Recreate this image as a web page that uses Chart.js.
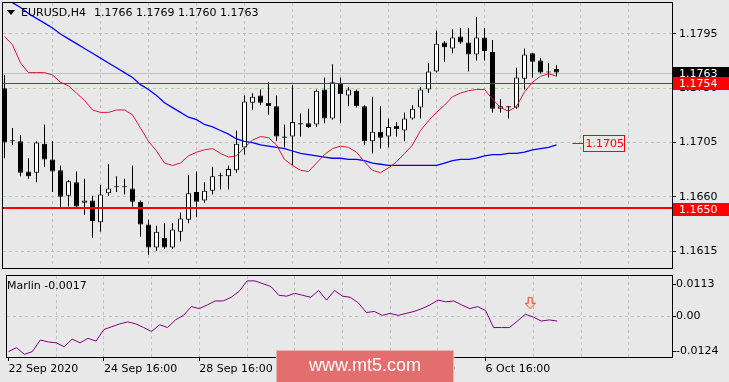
<!DOCTYPE html>
<html><head><meta charset="utf-8">
<script src="https://cdn.jsdelivr.net/npm/chart.js"></script>
<style>
html,body{margin:0;padding:0;background:#e8e8e8;width:729px;height:382px;overflow:hidden;}
#c1{position:absolute;left:0;top:0;}
#c2{position:absolute;left:0;top:269px;}
</style></head><body>
<canvas id="c1" width="729" height="270"></canvas>
<canvas id="c2" width="729" height="113"></canvas>
<script>
// ---------------- data ----------------
const symbolTitle = 'EURUSD,H4';
const lastBarText = '1.1766 1.1769 1.1760 1.1763';
const opens = [1.1750,1.1706,1.1706,1.1681,1.1680,1.1704,1.1691,1.1682,1.1661,1.1672,
1.1655,1.1657,1.1639,1.1663,1.1668,1.1668,1.1667,1.1656,1.1637,1.1618,
1.1626,1.1618,1.1631,1.1641,1.1664,1.1657,1.1665,1.1677,1.1677,1.1682,
1.1701,1.1738,1.1744,1.1738,1.1735,1.1710,1.1710,1.1721,1.1721,1.1720,
1.1749,1.1725,1.1754,1.1744,1.1748,1.1735,1.1706,1.1714,1.1710,1.1719,
1.1715,1.1725,1.1734,1.1749,1.1764,1.1788,1.1783,1.1793,1.1788,1.1778,
1.1792,1.1780,1.1733,1.1735,1.1734,1.1758,1.1779,1.1773,1.1763,1.1766];
const highs = [1.1761,1.1717,1.1711,1.1692,1.1706,1.1720,1.1706,1.1686,1.1674,1.1681,
1.1675,1.1661,1.1670,1.1687,1.1677,1.1675,1.1686,1.1657,1.1641,1.1636,
1.1638,1.1638,1.1647,1.1678,1.1681,1.1672,1.1685,1.1680,1.1686,1.1715,
1.1744,1.1746,1.1749,1.1755,1.1744,1.1720,1.1753,1.1729,1.1733,1.1749,
1.1759,1.1770,1.1759,1.1751,1.1749,1.1736,1.1743,1.1735,1.1725,1.1722,
1.1730,1.1736,1.1751,1.1771,1.1798,1.1789,1.1799,1.1800,1.1800,1.1809,
1.1800,1.1790,1.1741,1.1735,1.1767,1.1783,1.1779,1.1775,1.1771,1.1769];
const lows = [1.1692,1.1703,1.1677,1.1675,1.1672,1.1685,1.1664,1.1651,1.1652,1.1651,
1.1645,1.1626,1.1631,1.1661,1.1664,1.1662,1.1652,1.1627,1.1612,1.1615,
1.1617,1.1617,1.1623,1.1638,1.1643,1.1655,1.1662,1.1666,1.1666,1.1680,
1.1695,1.1732,1.1736,1.1728,1.1706,1.1701,1.1686,1.1710,1.1717,1.1718,
1.1721,1.1724,1.1721,1.1735,1.1734,1.1703,1.1696,1.1700,1.1701,1.1710,
1.1706,1.1724,1.1725,1.1746,1.1763,1.1772,1.1779,1.1787,1.1764,1.1773,
1.1773,1.1730,1.1730,1.1725,1.1733,1.1749,1.1759,1.1762,1.1759,1.1760];
const closes = [1.1705,1.1707,1.1680,1.1677,1.1705,1.1691,1.1681,1.1660,1.1673,1.1652,
1.1657,1.1640,1.1662,1.1667,1.1668,1.1668,1.1656,1.1637,1.1618,1.1631,
1.1618,1.1633,1.1642,1.1663,1.1656,1.1665,1.1677,1.1677,1.1683,1.1704,
1.1739,1.1743,1.1738,1.1735,1.1710,1.1709,1.1722,1.1720,1.1718,1.1748,
1.1725,1.1755,1.1745,1.1749,1.1735,1.1706,1.1714,1.1709,1.1718,1.1716,
1.1725,1.1733,1.1749,1.1764,1.1787,1.1784,1.1792,1.1788,1.1778,1.1792,
1.1781,1.1733,1.1735,1.1734,1.1759,1.1778,1.1772,1.1763,1.1764,1.1763];
const fastMA = [1.1793,1.1786,1.1771,1.1763,1.1763,1.1763,1.1761,1.1755,1.1752,1.1746,
1.1740,1.1732,1.1730,1.1730,1.1732,1.1732,1.1728,1.1717,1.1706,1.1698,
1.1688,1.1686,1.1688,1.1694,1.1697,1.1699,1.1700,1.1696,1.1693,1.1694,
1.1701,1.1707,1.1710,1.1709,1.1703,1.1691,1.1686,1.1682,1.1681,1.1688,
1.1695,1.1700,1.1702,1.1701,1.1697,1.1689,1.1682,1.1680,1.1684,1.1689,
1.1696,1.1703,1.1715,1.1723,1.1730,1.1736,1.1743,1.1746,1.1748,1.1749,
1.1749,1.1741,1.1734,1.1731,1.1735,1.1747,1.1755,1.1760,1.1762,1.1760];
const slowMA = [1.1825,1.1821,1.1817,1.1812,1.1808,1.1804,1.1800,1.1795,1.1791,1.1787,
1.1783,1.1779,1.1775,1.1771,1.1767,1.1763,1.1759,1.1753,1.1749,1.1744,
1.1738,1.1734,1.1730,1.1726,1.1724,1.1720,1.1718,1.1715,1.1712,1.1708,
1.1706,1.1705,1.1703,1.1702,1.1701,1.1700,1.1698,1.1696,1.1695,1.1694,
1.1693,1.1692,1.1692,1.1691,1.1691,1.1690,1.1688,1.1687,1.1686,1.1686,
1.1686,1.1686,1.1686,1.1686,1.1686,1.1688,1.1690,1.1691,1.1691,1.1692,
1.1694,1.1695,1.1695,1.1696,1.1696,1.1697,1.1699,1.1700,1.1701,1.1703];
const marlin = [-0.0125,-0.0111,-0.0135,-0.0125,-0.0084,-0.0091,-0.0094,-0.0108,-0.0081,-0.0094,
-0.0078,-0.0088,-0.0047,-0.0037,-0.0027,-0.0020,-0.0027,-0.0040,-0.0054,-0.0030,
-0.0040,-0.0013,0.0003,0.0034,0.0027,0.0040,0.0054,0.0054,0.0067,0.0088,
0.0125,0.0125,0.0115,0.0105,0.0074,0.0071,0.0081,0.0074,0.0067,0.0091,
0.0057,0.0091,0.0071,0.0067,0.0047,0.0013,0.0017,0.0003,0.0010,0.0003,
0.0010,0.0017,0.0027,0.0040,0.0057,0.0051,0.0054,0.0040,0.0027,0.0034,
0.0020,-0.0040,-0.0040,-0.0040,-0.0017,0.0007,-0.0003,-0.0017,-0.0013,-0.0017];
const marlinLabel = 'Marlin -0.0017';
const timeLabelIdx = [0, 12, 24, 36, 48, 60];
const timeLabelText = ['22 Sep 2020', '24 Sep 16:00', '28 Sep 16:00', '30 Sep 16:00', '2 Oct 16:00', '6 Oct 16:00'];
const priceTicks = [1.1615, 1.1660, 1.1705, 1.1750, 1.1795];
const marlinTicks = [-0.0124, 0, 0.0113];
const marlinTickText = ['-0.0124', '0.00', '0.0113'];
const bidPrice = 1.1763;
const redLevels = [1.1754, 1.1650];
const redLevelWidths = [1, 2];
const maLabelValue = 1.1705;
const signalX = [65.6];
const signalY = [0.0046];

// ---------------- setup ----------------
const idx = closes.map((_, i) => i);
const X_MIN = -0.1875, X_MAX = 83.4375;
const GRID = '#c2c2c2';
const FONT = "'DejaVu Sans', sans-serif";
Chart.defaults.font.family = FONT;
Chart.defaults.font.size = 11;
Chart.defaults.color = '#000';

function gridTicks(from){ const t=[]; for(let v=from; v<=78; v+=6) t.push({value:v}); return t; }

const mainDeco = {
  id: 'mainDeco',
  beforeDatasetsDraw(chart){
    const {ctx, chartArea:a, scales:{y}} = chart;
    const py = Math.round(y.getPixelForValue(bidPrice));
    ctx.save(); ctx.fillStyle = '#c0c0c0';
    ctx.fillRect(a.left, py, a.right - a.left, 1); ctx.restore();
  },
  afterDatasetsDraw(chart){
    const {ctx, chartArea:a, scales:{x, y}} = chart;
    ctx.save();
    ctx.setLineDash([]);
    // red level lines
    ctx.fillStyle = '#ff0000';
    redLevels.forEach((v, k) => {
      const w = redLevelWidths[k];
      const py = w > 1 ? Math.floor(y.getPixelForValue(v)) - 1 : Math.round(y.getPixelForValue(v));
      ctx.fillRect(a.left, py, a.right - a.left, w);
    });
    // frame
    ctx.strokeStyle = '#000'; ctx.lineWidth = 1;
    ctx.strokeRect(a.left - 0.5, a.top - 0.5, a.right - a.left + 1, a.bottom - a.top + 1);
    // title
    ctx.fillStyle = '#000';
    ctx.beginPath(); ctx.moveTo(7, 10); ctx.lineTo(15, 10); ctx.lineTo(11, 15); ctx.closePath(); ctx.fill();
    ctx.font = '11px ' + FONT; ctx.textBaseline = 'middle'; ctx.textAlign = 'left';
    ctx.fillText(symbolTitle, 21, 13);
    ctx.fillText(lastBarText, 94, 13);
    // MA value label inside plot
    const ly = Math.round(y.getPixelForValue(maLabelValue));
    const sx = x.getPixelForValue(71), bx = Math.round(x.getPixelForValue(72.25)), bw = 41;
    ctx.fillStyle = '#ff0000';
    ctx.fillRect(sx, ly, bx - sx, 1);
    ctx.strokeStyle = '#ff0000';
    ctx.strokeRect(bx + 0.5, ly - 7.5, bw, 16);
    ctx.fillText(maLabelValue.toFixed(4), bx + 2.5, ly + 1);
    // axis price boxes
    const boxes = [[bidPrice, '#000000'], [redLevels[0], '#ff0000'], [redLevels[1], '#ff0000']];
    boxes.forEach(([v, col]) => {
      const py = Math.round(y.getPixelForValue(v));
      ctx.fillStyle = col; ctx.fillRect(a.right + 1, py - 6, 56, 13);
      ctx.fillStyle = '#ffffff'; ctx.fillText(v.toFixed(4), a.right + 7, py + 1);
    });
    ctx.restore();
  }
};

new Chart(document.getElementById('c1'), {
  type: 'bar',
  data: { datasets: [
    { type:'line', label:'fast', data: idx.map(i => ({x:i, y:fastMA[i]})), borderColor:'#dc143c', borderWidth:1, pointRadius:0, tension:0, order:0, clip:0 },
    { type:'line', label:'slow', data: idx.map(i => ({x:i, y:slowMA[i]})), borderColor:'#0000ff', borderWidth:1.3, pointRadius:0, tension:0, order:1, clip:0 },
    { type:'bar', label:'body', data: idx.map(i => ({x:i, y:[opens[i], closes[i]]})),
      backgroundColor: idx.map(i => closes[i] >= opens[i] ? '#ffffff' : '#000000'),
      borderColor:'#000000', borderWidth:1, borderSkipped:false, barThickness:5, minBarLength:1, inflateAmount:0, grouped:false, order:2, clip:0 },
    { type:'bar', label:'wick', data: idx.map(i => ({x:i, y:[lows[i], highs[i]]})),
      backgroundColor:'#000000', borderWidth:0, barThickness:1, inflateAmount:0, grouped:false, order:3, clip:0 }
  ]},
  options: {
    responsive:false, animation:false, devicePixelRatio:1,
    layout:{ padding:{ left:3, top:3, right:0, bottom:2 } },
    plugins:{ legend:{display:false}, tooltip:{enabled:false} },
    scales:{
      x:{ type:'linear', min:X_MIN, max:X_MAX, offset:false,
          afterBuildTicks: s => { s.ticks = gridTicks(6); },
          ticks:{ display:false },
          grid:{ offset:false, color:GRID, drawTicks:false },
          border:{ display:false, dash:[3,3] },
          afterFit: s => { s.height = 0; s.paddingLeft = 0; s.paddingRight = 0; } },
      y:{ position:'right', min:1.16010, max:1.18207, beginAtZero:false,
          afterBuildTicks: s => { s.ticks = priceTicks.map(v => ({value:v})); },
          ticks:{ callback: v => Number(v).toFixed(4), padding:3, autoSkip:false },
          grid:{ color:GRID, tickColor:'#000', tickLength:4, tickBorderDash:[] },
          border:{ display:false, dash:[3,3] },
          afterFit: s => { s.width = 57; s.paddingTop = 0; s.paddingBottom = 0; } }
    }
  },
  plugins:[mainDeco]
});

// arrow marker image
function makeArrow(){
  const c = document.createElement('canvas'); c.width = 11; c.height = 13;
  const g = c.getContext('2d');
  g.beginPath();
  g.moveTo(3.5,0.5); g.lineTo(7.5,0.5); g.lineTo(7.5,6.5); g.lineTo(10.5,6.5); g.lineTo(5.5,12); g.lineTo(0.5,6.5); g.lineTo(3.5,6.5); g.closePath();
  g.fillStyle = '#ffe2d6'; g.fill(); g.strokeStyle = '#f03a28'; g.lineWidth = 1; g.stroke();
  return c;
}

const subDeco = {
  id:'subDeco',
  afterDatasetsDraw(chart){
    const {ctx, chartArea:a} = chart;
    ctx.save();
    ctx.setLineDash([]);
    ctx.strokeStyle = '#000'; ctx.lineWidth = 1;
    ctx.strokeRect(a.left - 0.5, a.top - 0.5, a.right - a.left + 1, a.bottom - a.top + 1);
    ctx.fillStyle = '#000'; ctx.font = '11px ' + FONT; ctx.textBaseline = 'middle'; ctx.textAlign = 'left';
    ctx.fillText(marlinLabel, 7, a.top + 10);
    ctx.restore();
  },
  afterDraw(chart){
    const {ctx} = chart;
    ctx.save();
    ctx.fillStyle = '#e36e6e';
    ctx.fillRect(276, 81, 178, 32);
    ctx.strokeStyle = 'rgba(255,255,255,0.45)'; ctx.lineWidth = 1;
    ctx.strokeRect(276.5, 81.5, 177, 32);
    ctx.fillStyle = '#ffffff'; ctx.font = "18px 'Liberation Sans', Arial, sans-serif";
    ctx.textAlign = 'center'; ctx.textBaseline = 'middle';
    ctx.fillText('www.mt5.com', 365, 97);
    ctx.restore();
  }
};

new Chart(document.getElementById('c2'), {
  type:'line',
  data:{ datasets:[
    { label:'Marlin', data: idx.map(i => ({x:i, y:marlin[i]})), borderColor:'#800080', borderWidth:1, pointRadius:0, tension:0, clip:0, order:1 },
    { type:'scatter', label:'signal', data: signalX.map((sx, k) => ({x:sx, y:signalY[k]})), pointStyle: makeArrow(), pointRadius:6, showLine:false, clip:false, order:0 }
  ]},
  options:{
    responsive:false, animation:false, devicePixelRatio:1,
    layout:{ padding:{ left:3, top:3, right:0, bottom:0 } },
    plugins:{ legend:{display:false}, tooltip:{enabled:false} },
    scales:{
      x:{ type:'linear', min:X_MIN, max:X_MAX, offset:false,
          afterBuildTicks: s => { s.ticks = gridTicks(0); },
          ticks:{ autoSkip:false, maxRotation:0, minRotation:0, align:'start', padding:2,
                  callback: v => { const k = timeLabelIdx.indexOf(Math.round(v)); return k >= 0 ? timeLabelText[k] : ''; } },
          grid:{ offset:false, color: c => (c.tick && c.tick.value === 0) ? 'rgba(0,0,0,0)' : GRID,
                 tickColor: c => (c.tick && timeLabelIdx.includes(c.tick.value)) ? '#000' : 'rgba(0,0,0,0)',
                 tickLength:4, tickBorderDash:[] },
          border:{ display:false, dash:[3,3] },
          afterFit: s => { s.height = 25; s.paddingLeft = 0; s.paddingRight = 0; } },
      y:{ position:'right', min:-0.01442, max:0.01423,
          afterBuildTicks: s => { s.ticks = marlinTicks.map(v => ({value:v})); },
          ticks:{ callback: (v, i) => marlinTickText[i], padding:0, autoSkip:false },
          grid:{ color: c => (c.tick && c.tick.value === 0) ? GRID : 'rgba(0,0,0,0)', tickColor:'#000', tickLength:4, tickBorderDash:[] },
          border:{ display:false, dash:[3,3] },
          afterFit: s => { s.width = 57; s.paddingTop = 0; s.paddingBottom = 0; } }
    }
  },
  plugins:[subDeco]
});
</script>
</body></html>
